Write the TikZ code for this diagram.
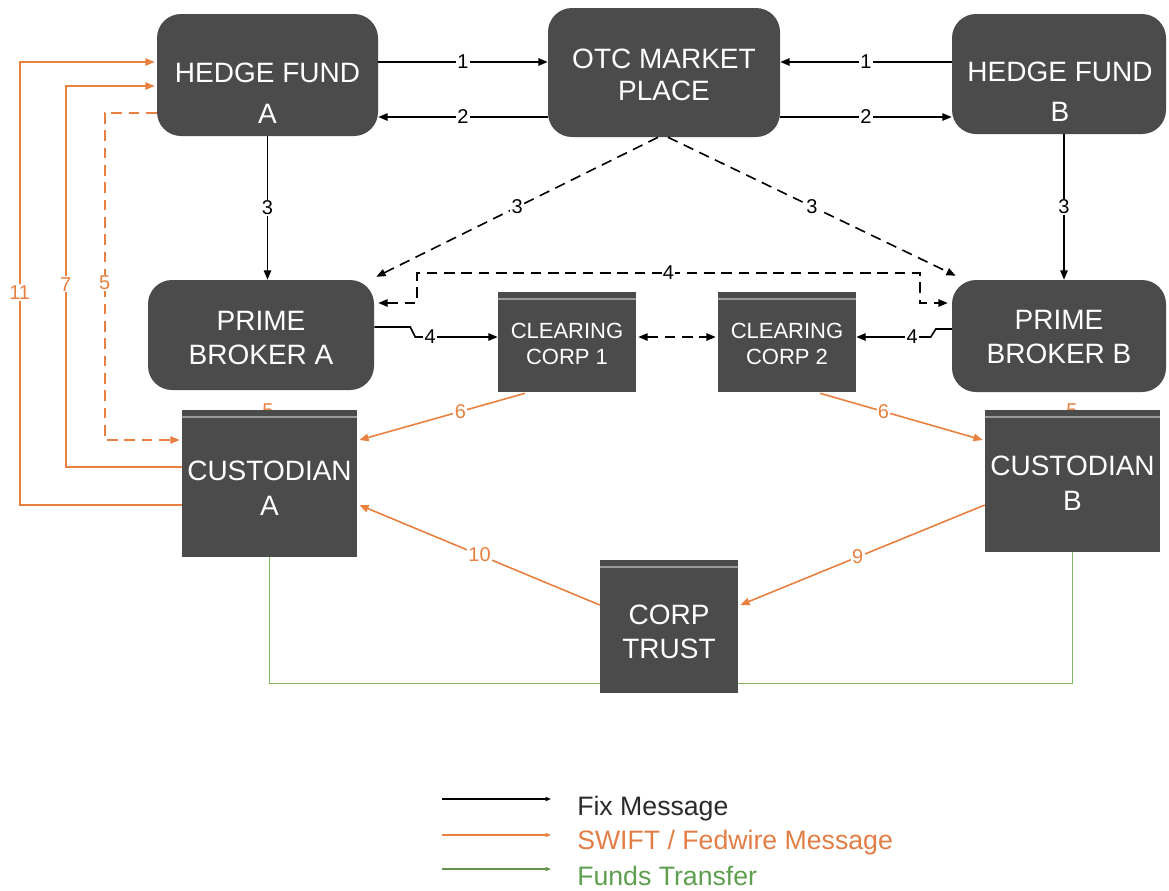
\documentclass[tikz,border=0pt]{standalone}
\usepackage{fontspec}
\setmainfont{Liberation Sans}
\usetikzlibrary{arrows.meta,calc,backgrounds}
\definecolor{boxgray}{HTML}{4B4B4B}
\definecolor{swiftor}{HTML}{E8803F}
\definecolor{fundgr}{HTML}{7DB85E}
\definecolor{stripecol}{HTML}{9A9A9A}
\definecolor{legblack}{HTML}{2A2A2A}
\definecolor{legor}{HTML}{E27D45}
\definecolor{leggr}{HTML}{5E9E4F}
\begin{document}
\begin{tikzpicture}[x=0.75pt,y=-0.75pt,
  >={Triangle[length=7pt,width=5.5pt]},
  rbox/.style={fill=boxgray, rounded corners=18pt, inner sep=0pt},
  sbox/.style={fill=boxgray, inner sep=0pt},
  btext/.style={text=white, align=center, inner sep=0pt},
  bigtext/.style={btext, font=\fontsize{21}{26}\selectfont},
  smalltext/.style={btext, font=\fontsize{16.5}{20}\selectfont},
  fix/.style={draw=black, line width=1.2pt, ->},
  swift/.style={draw=swiftor, line width=1.2pt, ->},
  funds/.style={draw=fundgr, line width=1.1pt},
  dashes/.style={dash pattern=on 8pt off 5pt},
  nlbl/.style={fill=white, inner sep=1pt, font=\fontsize{15}{17}\selectfont},
  olbl/.style={nlbl, text=swiftor},
  stripeline/.style={draw=stripecol, line width=1.3pt},
  legtext/.style={anchor=west, inner sep=0pt, font=\fontsize{20}{24}\selectfont},
]
\useasboundingbox (0,0) rectangle (1169,890);

% ---------- nodes ----------
\node[rbox, minimum width=165.75pt, minimum height=91.5pt] (hfa) at (267.5,75) {};
\node[bigtext, font=\fontsize{21}{30.75}\selectfont] (hfat) at (267.5,93) {HEDGE FUND\\A};

\node[rbox, minimum width=174pt, minimum height=96.75pt] (otc) at (664,72.5) {};
\node[bigtext, font=\fontsize{21}{24}\selectfont] (otct) at (664,75) {OTC MARKET\\PLACE};

\node[rbox, minimum width=160.5pt, minimum height=90pt] (hfb) at (1059,74) {};
\node[bigtext, font=\fontsize{21}{30}\selectfont] (hfbt) at (1060,92) {HEDGE FUND\\B};

\node[rbox, minimum width=169.5pt, minimum height=82.5pt] (pba) at (261,335) {};
\node[bigtext] (pbat) at (261,338) {PRIME\\BROKER A};

\node[sbox, minimum width=103.5pt, minimum height=75pt] (cc1) at (567,342) {};
\node[smalltext] (cc1t) at (567,344) {CLEARING\\CORP 1};

\node[sbox, minimum width=103.5pt, minimum height=75pt] (cc2) at (787,342) {};
\node[smalltext] (cc2t) at (787,344) {CLEARING\\CORP 2};

\node[rbox, minimum width=160.5pt, minimum height=84pt] (pbb) at (1059,336) {};
\node[bigtext] (pbbt) at (1059,337) {PRIME\\BROKER B};

\node[sbox, minimum width=131.25pt, minimum height=110.25pt] (cua) at (269.5,483.5) {};
\node[bigtext] (cuat) at (269.5,488) {CUSTODIAN\\A};

\node[sbox, minimum width=131.25pt, minimum height=106.5pt] (cub) at (1072.5,481) {};
\node[bigtext] (cubt) at (1072.5,483) {CUSTODIAN\\B};

\node[sbox, minimum width=103.5pt, minimum height=99.75pt] (ct) at (669,626.5) {};
\node[bigtext, font=\fontsize{21}{25}\selectfont] (ctt) at (669,632) {CORP\\TRUST};

% stripes on the square boxes
\foreach \b in {cc1,cc2,cua,cub,ct}{
  \draw[stripeline] ($(\b.north west)+(0,7)$) -- ($(\b.north east)+(0,7)$);
}

% ---------- background: funds transfer and hidden labels ----------
\begin{pgfonlayer}{background}
  \draw[funds] (cua.south) -- ++(0,126) -| (cub.south);
  \node[olbl, fill=none] (h5a) at (268,411) {5};
  \node[olbl, fill=none] (h5b) at (1072,411) {5};
\end{pgfonlayer}

% ---------- Fix messages ----------
\draw[fix] ($(hfa.east)+(0,-13)$) -- node[nlbl]{1} ($(otc.west)+(0,-10.5)$);
\draw[fix] ($(hfb.west)+(0,-12)$) -- node[nlbl]{1} ($(otc.east)+(0,-10.5)$);
\draw[fix] ($(otc.west)+(0,44.5)$) -- node[nlbl]{2} ($(hfa.east)+(0,42)$);
\draw[fix] ($(otc.east)+(0,44.5)$) -- node[nlbl]{2} ($(hfb.west)+(0,43)$);

\draw[fix] (hfa.south) -- node[nlbl]{3} (hfa.south |- pba.north);
\draw[fix] ($(hfb.south)+(5,0)$) -- node[nlbl]{3} ($(pbb.north)+(5,0)$);

\draw[fix, dashes] ($(otc.south)+(-6,0)$) -- node[nlbl]{3} ($(pba.north east)+(2,-3)$);
\draw[fix, dashes] ($(otc.south)+(4,0)$) -- node[nlbl]{3} ($(pbb.north west)+(4,-4)$);

\coordinate (d4l) at (417,273);
\coordinate (d4r) at (920,273);
\draw[fix, dashes, <->] ($(pba.east)+(4,-32)$) -| (d4l) -- node[nlbl]{4} (d4r) |- ($(pbb.west)+(-4,-33)$);

\draw[fix] ($(pba.east)+(0,-8)$) -- ++(36,0) -- ++(5,10) -- node[nlbl,pos=0.18]{4} ($(cc1.west)+(0,-5)$);
\draw[fix] ($(pbb.west)+(0,-7)$) -- ++(-16,0) -- ++(-5,8) -- node[nlbl,pos=0.25]{4} ($(cc2.east)+(0,-5)$);

\draw[fix, dashes, <->] ($(cc1.east)+(2,-5)$) -- ($(cc2.west)+(-2,-5)$);

% ---------- SWIFT / Fedwire ----------
\draw[swift, dashes] ($(hfa.west)+(0,38)$) -- ++(-52,0) |- node[olbl,pos=0.26]{5} ($(cua.west)+(-2,-43.5)$);
\draw[swift] ($(cua.west)+(0,-16.5)$) -- ++(-116,0) |- node[olbl,pos=0.24]{7} ($(hfa.west)+(-2,11)$);
\draw[swift] ($(cua.west)+(0,21.5)$) -- ++(-162,0) |- node[olbl,pos=0.24]{11} ($(hfa.west)+(-2,-13)$);

\draw[swift] ($(cc1.south)+(-42,1)$) -- node[olbl,pos=0.39]{6} ($(cua.east)+(2,-43.5)$);
\draw[swift] ($(cc2.south)+(33,1)$) -- node[olbl,pos=0.39]{6} ($(cub.west)+(-2,-41)$);
\draw[swift] ($(ct.west)+(0,-21.5)$) -- node[olbl]{10} ($(cua.east)+(2,21.5)$);
\draw[swift] ($(cub.west)+(0,24)$) -- node[olbl,pos=0.52]{9} ($(ct.east)+(2,-21.5)$);

% ---------- legend ----------
\begin{scope}[>={Triangle[length=4pt,width=3pt]}]
  \coordinate (l1a) at (442,799); \coordinate (l1b) at (551,799);
  \coordinate (l2a) at (442,835); \coordinate (l2b) at (551,835);
  \coordinate (l3a) at (442,869); \coordinate (l3b) at (551,869);
  \draw[draw=black, line width=1.1pt, ->] (l1a) -- (l1b);
  \draw[draw=swiftor, line width=1.1pt, ->] (l2a) -- (l2b);
  \draw[draw=fundgr!80!black, line width=1.1pt, ->] (l3a) -- (l3b);
\end{scope}
\node[legtext, text=legblack] (lt1) at (577,809) {Fix Message};
\node[legtext, text=legor] (lt2) at (577,843) {SWIFT / Fedwire Message};
\node[legtext, text=leggr] (lt3) at (577,876) {Funds Transfer};
\end{tikzpicture}
\end{document}
